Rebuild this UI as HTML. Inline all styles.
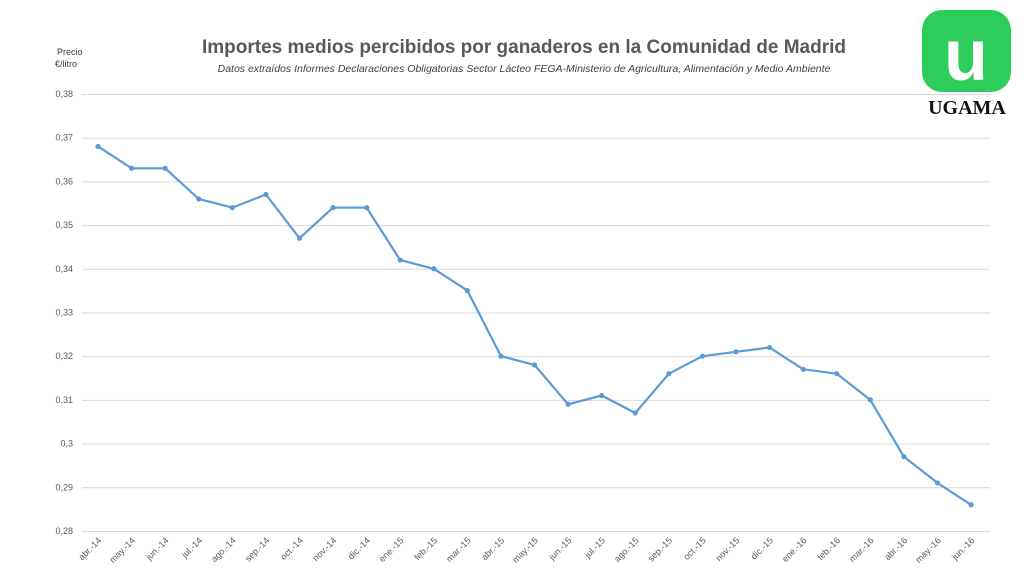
<!DOCTYPE html>
<html><head><meta charset="utf-8"><style>
body{margin:0;background:#fff;width:1024px;height:576px;overflow:hidden}
svg{display:block}
</style></head><body>
<svg width="1024" height="576" xmlns="http://www.w3.org/2000/svg" font-family="Liberation Sans, sans-serif">
<text x="524" y="53" text-anchor="middle" font-size="19" font-weight="bold" fill="#595959">Importes medios percibidos por ganaderos en la Comunidad de Madrid</text>
<text x="524" y="72" text-anchor="middle" font-size="10.5" font-style="italic" fill="#404040">Datos extraídos Informes Declaraciones Obligatorias Sector Lácteo FEGA-Ministerio de Agricultura, Alimentación y Medio Ambiente</text>
<text x="57" y="55" font-size="9" fill="#404040">Precio</text>
<text x="55" y="67" font-size="9" fill="#404040">€/litro</text>
<rect x="922" y="10" width="89" height="82" rx="20" fill="#2ecc5a"/>
<text x="966" y="80" text-anchor="middle" font-size="72" font-weight="bold" font-family="Liberation Sans, sans-serif" fill="#fff">u</text>
<text x="967" y="114" text-anchor="middle" font-size="20" font-weight="bold" font-family="Liberation Serif, serif" fill="#111">UGAMA</text>
<g id="grid" stroke="#d9d9d9" stroke-width="1"></g>
<g id="ylab" font-size="9" fill="#595959" text-anchor="end"></g>
<g id="xlab" font-size="9" fill="#595959" text-anchor="end"></g>
<polyline id="line" fill="none" stroke="#5b9bd5" stroke-width="2.2" stroke-linejoin="round"/>
<g id="dots" fill="#5b9bd5"></g>
</svg>
<script>
var ns="http://www.w3.org/2000/svg";
function el(t,a,p,txt){var e=document.createElementNS(ns,t);for(var k in a)e.setAttribute(k,a[k]);if(txt)e.textContent=txt;document.getElementById(p).appendChild(e);return e;}
var ylab=["0,28","0,29","0,3","0,31","0,32","0,33","0,34","0,35","0,36","0,37","0,38"];
for(var i=0;i<=10;i++){var y=531-i*43.7;el("line",{x1:82,x2:990,y1:y+0.5,y2:y+0.5},"grid");el("text",{x:73,y:y+3},"ylab",ylab[i]);}
var d=[0.368,0.363,0.363,0.356,0.354,0.357,0.347,0.354,0.354,0.342,0.340,0.335,0.320,0.318,0.309,0.311,0.307,0.316,0.320,0.321,0.322,0.317,0.316,0.310,0.297,0.291,0.286];
var m=["abr.","may.","jun.","jul.","ago.","sep.","oct.","nov.","dic.","ene.","feb.","mar."];
var pts=[];
for(var i=0;i<d.length;i++){var x=98+i*33.58,y=94+(0.38-d[i])*4370;pts.push(x.toFixed(1)+","+y.toFixed(1));
el("circle",{cx:x,cy:y,r:2.6},"dots");
var mi=i%12, yr=14+Math.floor((i+3)/12);
el("text",{x:0,y:0,transform:"translate("+(x+4)+",541) rotate(-45)"},"xlab",m[mi]+"-"+yr);}
document.getElementById("line").setAttribute("points",pts.join(" "));
</script>
</body></html>
